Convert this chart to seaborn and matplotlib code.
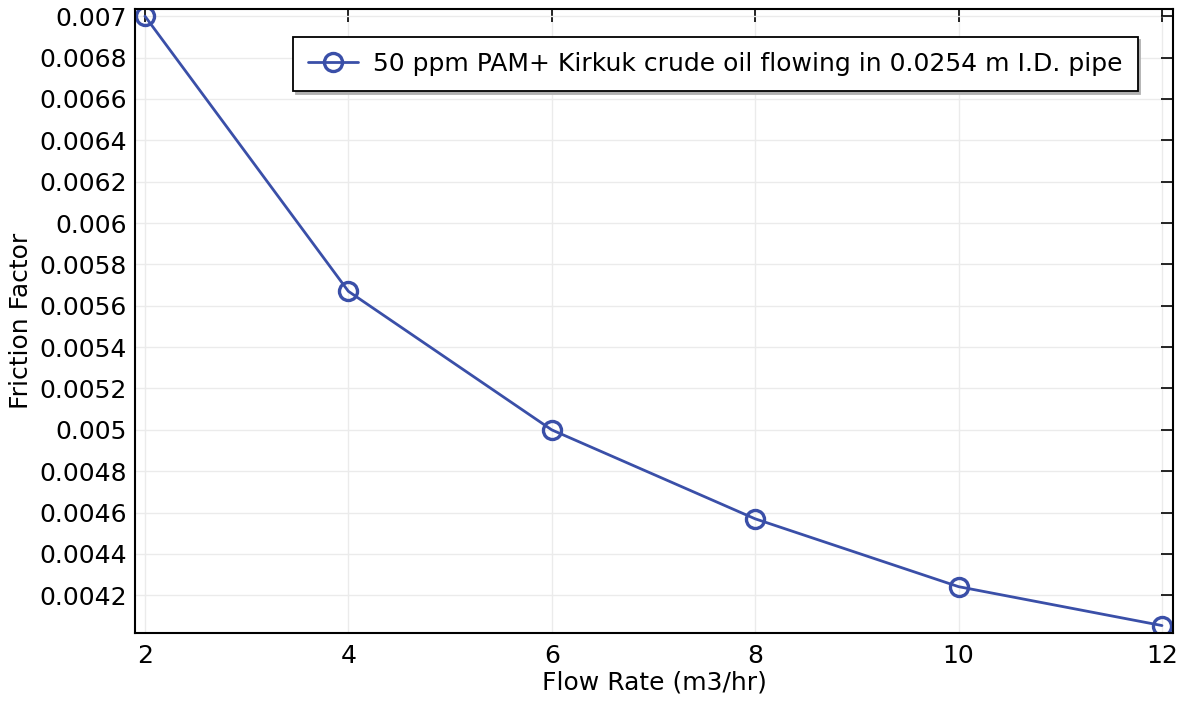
import numpy as np
import pandas as pd
import seaborn as sns
import matplotlib.pyplot as plt

flow_rate = [2, 4, 6, 8, 10, 12]
friction = [0.007, 0.00567, 0.005, 0.00457, 0.004242, 0.004054]
series_name = '50 ppm PAM+ Kirkuk crude oil flowing in 0.0254 m I.D. pipe'
y_ticks = [0.0042, 0.0044, 0.0046, 0.0048, 0.005, 0.0052, 0.0054, 0.0056,
           0.0058, 0.006, 0.0062, 0.0064, 0.0066, 0.0068, 0.007]
y_labels = ['0.0042', '0.0044', '0.0046', '0.0048', '0.005', '0.0052', '0.0054',
            '0.0056', '0.0058', '0.006', '0.0062', '0.0064', '0.0066', '0.0068', '0.007']
x_ticks = [2, 4, 6, 8, 10, 12]

df = pd.DataFrame({'Flow Rate (m3/hr)': flow_rate, 'Friction Factor': friction,
                   'series': series_name})

sns.set_style('white')
plt.rcParams['font.family'] = ['DejaVu Sans']

fig = plt.figure(figsize=(11.83, 7.02), dpi=100)
ax = fig.add_axes([0.1141, 0.0983, 0.8774, 0.8887])

color = '#3a4fa8'
sns.lineplot(data=df, x='Flow Rate (m3/hr)', y='Friction Factor', hue='series',
             palette=[color], marker='o', markersize=13, markerfacecolor='none',
             markeredgecolor=color, markeredgewidth=2.4, linewidth=2.0, ax=ax)

ax.set_xlim(1.902, 12.108)
ax.set_ylim(0.004018, 0.007034)
ax.set_xticks(x_ticks)
ax.set_yticks(y_ticks)
ax.set_yticklabels(y_labels)
ax.tick_params(direction='in', length=9, width=1.2, top=True, right=True,
               labelsize=18, pad=6, colors='black')
ax.tick_params(axis='x', pad=8)
ax.grid(True, color='#ebebeb', linewidth=1)
for s in ax.spines.values():
    s.set_color('black')
    s.set_linewidth(1.5)

ax.set_xlabel('Flow Rate (m3/hr)', fontsize=18, labelpad=2, color='black')
ax.set_ylabel('Friction Factor', fontsize=18, labelpad=4, color='black')

leg = ax.legend(loc='upper right', bbox_to_anchor=(0.966, 0.955), fontsize=18,
                frameon=True, fancybox=False, shadow={'color': '#b0b0b0', 'alpha': 1},
                borderpad=0.6, handlelength=2.0, handletextpad=0.6, borderaxespad=0)
leg.get_frame().set_edgecolor('black')
leg.get_frame().set_linewidth(1.3)
for t in leg.get_texts():
    t.set_color('black')
leg.set_title(None)

fig.savefig('out.png', dpi=100)
